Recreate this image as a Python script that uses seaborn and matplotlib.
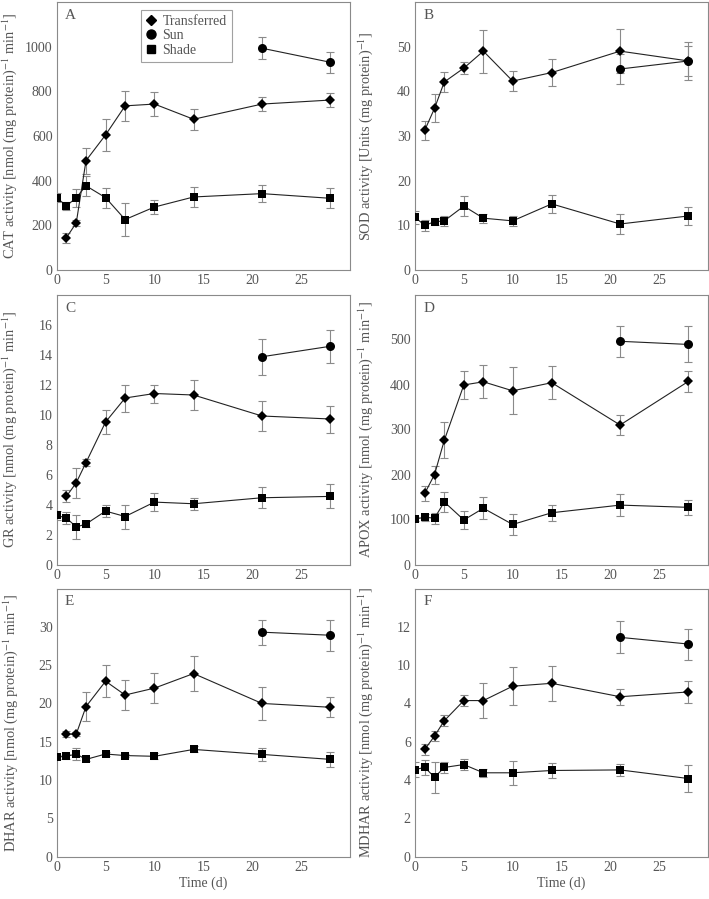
#!/usr/bin/env python3
# -*- coding: utf-8 -*-

import seaborn as sns
import matplotlib.pyplot as plt
import pandas as pd
from matplotlib.lines import Line2D

# ---- data ----
days_tr = [1, 2, 3, 5, 7, 10, 14, 21, 28]
days_sun = [21, 28]
days_sh = [0, 1, 2, 3, 5, 7, 10, 14, 21, 28]

# A: CAT
cat_tr = [145, 211, 490, 605, 735, 743, 675, 743, 761]
cat_tr_err = [22, 12, 58, 70, 66, 52, 48, 32, 32]
cat_sun = [993, 930]
cat_sun_err = [50, 47]
cat_sh = [324, 287, 324, 377, 324, 226, 282, 327, 342, 321]
cat_sh_err = [20, 18, 40, 45, 45, 73, 32, 45, 38, 45]

# B: SOD
sod_tr = [31.3, 36.2, 42.1, 45.2, 49.0, 42.3, 44.2, 49.0, 46.8]
sod_tr_err = [2.1, 3.1, 2.3, 1.3, 4.8, 2.3, 3.0, 4.9, 3.3]
sod_sun = [45.0, 46.8]
sod_sun_err = [3.3, 4.2]
sod_sh = [11.8, 10.0, 10.8, 11.0, 14.3, 11.6, 11.0, 14.8, 10.3, 12.1]
sod_sh_err = [1.5, 1.2, 0.8, 1.2, 2.3, 1.0, 1.2, 2.0, 2.2, 2.0]

# C: GR
gr_tr = [4.55, 5.45, 6.8, 9.5, 11.1, 11.4, 11.3, 9.9, 9.7]
gr_tr_err = [0.4, 1.0, 0.25, 0.8, 0.9, 0.6, 1.0, 1.0, 0.9]
gr_sun = [13.85, 14.55]
gr_sun_err = [1.2, 1.1]
gr_sh = [3.27, 3.1, 2.5, 2.7, 3.56, 3.2, 4.16, 4.05, 4.45, 4.54]
gr_sh_err = [0.3, 0.4, 0.8, 0.2, 0.4, 0.8, 0.6, 0.4, 0.7, 0.8]

# D: APOX
apox_tr = [158, 200, 276, 399, 406, 386, 404, 310, 407]
apox_tr_err = [17, 20, 40, 32, 37, 52, 37, 22, 24]
apox_sun = [496, 489]
apox_sun_err = [34, 40]
apox_sh = [101, 105, 103, 139, 99, 125, 89, 115, 132, 127]
apox_sh_err = [5, 8, 12, 23, 20, 24, 23, 18, 25, 16]

# E: DHAR
dhar_tr = [16.0, 16.0, 19.6, 22.9, 21.1, 22.0, 23.9, 20.0, 19.5]
dhar_tr_err = [0.4, 0.3, 1.85, 2.1, 2.0, 1.95, 2.3, 2.2, 1.3]
dhar_sun = [29.3, 28.9]
dhar_sun_err = [1.65, 2.0]
dhar_sh = [13.0, 13.1, 13.4, 12.7, 13.4, 13.2, 13.1, 14.0, 13.35, 12.7]
dhar_sh_err = [0.3, 0.3, 0.8, 0.2, 0.3, 0.2, 0.4, 0.4, 0.85, 1.0]

# F: MDHAR
mdhar_tr = [5.6, 6.3, 7.1, 8.15, 8.15, 8.9, 9.05, 8.35, 8.6]
mdhar_tr_err = [0.3, 0.25, 0.3, 0.28, 0.9, 1.0, 0.93, 0.42, 0.58]
mdhar_sun = [11.45, 11.1]
mdhar_sun_err = [0.83, 0.81]
mdhar_sh = [4.55, 4.66, 4.15, 4.66, 4.81, 4.38, 4.38, 4.5, 4.53, 4.08]
mdhar_sh_err = [0.38, 0.4, 0.8, 0.3, 0.3, 0.2, 0.64, 0.4, 0.3, 0.7]

x_ticks = [0, 5, 10, 15, 20, 25]
f_yticks = [0, 2, 4, 6, 8, 10, 12]
f_yticklabels = ['0', '2', '4', '6', '4', '10', '12']

panels = [
    dict(letter='A', tr=cat_tr, tre=cat_tr_err, sun=cat_sun, sune=cat_sun_err,
         sh=cat_sh, she=cat_sh_err, ylim=1200, yticks=[0, 200, 400, 600, 800, 1000],
         ylabel='CAT activity [nmol (mg protein)$^{-1}$ min$^{-1}$]'),
    dict(letter='B', tr=sod_tr, tre=sod_tr_err, sun=sod_sun, sune=sod_sun_err,
         sh=sod_sh, she=sod_sh_err, ylim=60, yticks=[0, 10, 20, 30, 40, 50],
         ylabel='SOD activity [Units (mg protein)$^{-1}$]'),
    dict(letter='C', tr=gr_tr, tre=gr_tr_err, sun=gr_sun, sune=gr_sun_err,
         sh=gr_sh, she=gr_sh_err, ylim=18, yticks=[0, 2, 4, 6, 8, 10, 12, 14, 16],
         ylabel='GR activity [nmol (mg protein)$^{-1}$ min$^{-1}$]'),
    dict(letter='D', tr=apox_tr, tre=apox_tr_err, sun=apox_sun, sune=apox_sun_err,
         sh=apox_sh, she=apox_sh_err, ylim=600, yticks=[0, 100, 200, 300, 400, 500],
         ylabel='APOX activity [nmol (mg protein)$^{-1}$ min$^{-1}$]'),
    dict(letter='E', tr=dhar_tr, tre=dhar_tr_err, sun=dhar_sun, sune=dhar_sun_err,
         sh=dhar_sh, she=dhar_sh_err, ylim=35, yticks=[0, 5, 10, 15, 20, 25, 30],
         ylabel='DHAR activity [nmol (mg protein)$^{-1}$ min$^{-1}$]'),
    dict(letter='F', tr=mdhar_tr, tre=mdhar_tr_err, sun=mdhar_sun, sune=mdhar_sun_err,
         sh=mdhar_sh, she=mdhar_sh_err, ylim=14, yticks=f_yticks,
         yticklabels=f_yticklabels,
         ylabel='MDHAR activity [nmol (mg protein)$^{-1}$ min$^{-1}$]'),
]

sns.set_style("white")
plt.rcParams['font.family'] = ['Liberation Serif', 'DejaVu Serif']
plt.rcParams['mathtext.fontset'] = 'stix'

W, H = 709, 899
fig = plt.figure(figsize=(W / 100, H / 100), dpi=100)

# pixel boxes (left, top, right, bottom)
boxes = [
    (56.7, 2, 350, 270), (415, 2, 708, 270),
    (56.7, 294.5, 350, 564.5), (415, 294.5, 708, 564.5),
    (56.7, 588.5, 350, 856.7), (415, 588.5, 708, 856.7),
]
label_x = [-0.130, -0.135, -0.130, -0.135, -0.126, -0.135]

GREY = '#8a8a8a'
TXT = '#555555'

series_style = {
    'Transferred': dict(marker='D', markersize=5.2),
    'Sun': dict(marker='o', markersize=6.5),
    'Shade': dict(marker='s', markersize=5.8),
}

for i, (p, b) in enumerate(zip(panels, boxes)):
    l, t, r, bt = b
    ax = fig.add_axes([l / W, (H - bt) / H, (r - l) / W, (bt - t) / H])

    rows = []
    for name, xs, ys, es in [('Transferred', days_tr, p['tr'], p['tre']),
                             ('Sun', days_sun, p['sun'], p['sune']),
                             ('Shade', days_sh, p['sh'], p['she'])]:
        for x, y, e in zip(xs, ys, es):
            rows.append(dict(time=x, value=y, err=e, group=name))
    df = pd.DataFrame(rows)

    for name, g in df.groupby('group', sort=False):
        ax.errorbar(g['time'], g['value'], yerr=g['err'], fmt='none',
                    ecolor=GREY, elinewidth=0.8, capsize=3, capthick=0.8, zorder=2)
        sns.lineplot(data=g, x='time', y='value', ax=ax, color='#222222',
                     linewidth=0.8, mfc='black', mec='black', mew=0,
                     errorbar=None, zorder=3, **series_style[name])

    ax.set_xlim(0, 30)
    ax.set_ylim(0, p['ylim'])
    ax.set_xticks(x_ticks)
    ax.set_yticks(p['yticks'])
    if 'yticklabels' in p:
        ax.set_yticklabels(p['yticklabels'])
    ax.tick_params(direction='in', length=4, width=0.8, color=GREY,
                   labelcolor=TXT, labelsize=10, pad=3)
    for sp in ax.spines.values():
        sp.set_color(GREY)
        sp.set_linewidth(0.8)

    ax.set_ylabel(p['ylabel'], fontsize=10.4, color=TXT)
    ax.yaxis.set_label_coords(label_x[i], 0.5)
    if i >= 4:
        ax.set_xlabel('Time (d)', fontsize=10, color=TXT, labelpad=2)
    else:
        ax.set_xlabel('')

    ax.text(0.028, 0.95, p['letter'], transform=ax.transAxes, fontsize=11,
            color=TXT, ha='left', va='center')

    if i == 0:
        handles = [Line2D([], [], color='black', linestyle='none', **series_style[n])
                   for n in ['Transferred', 'Sun', 'Shade']]
        leg = ax.legend(handles, ['Transferred', 'Sun', 'Shade'],
                        loc='upper left', bbox_to_anchor=(0.287, 0.97),
                        fontsize=10, frameon=True, fancybox=False,
                        handlelength=0.8, handletextpad=0.4, borderpad=0.35,
                        labelspacing=0.1, borderaxespad=0)
        leg.get_frame().set_edgecolor(GREY)
        leg.get_frame().set_linewidth(0.8)
        for t in leg.get_texts():
            t.set_color(TXT)

plt.savefig('out.png', dpi=100)
